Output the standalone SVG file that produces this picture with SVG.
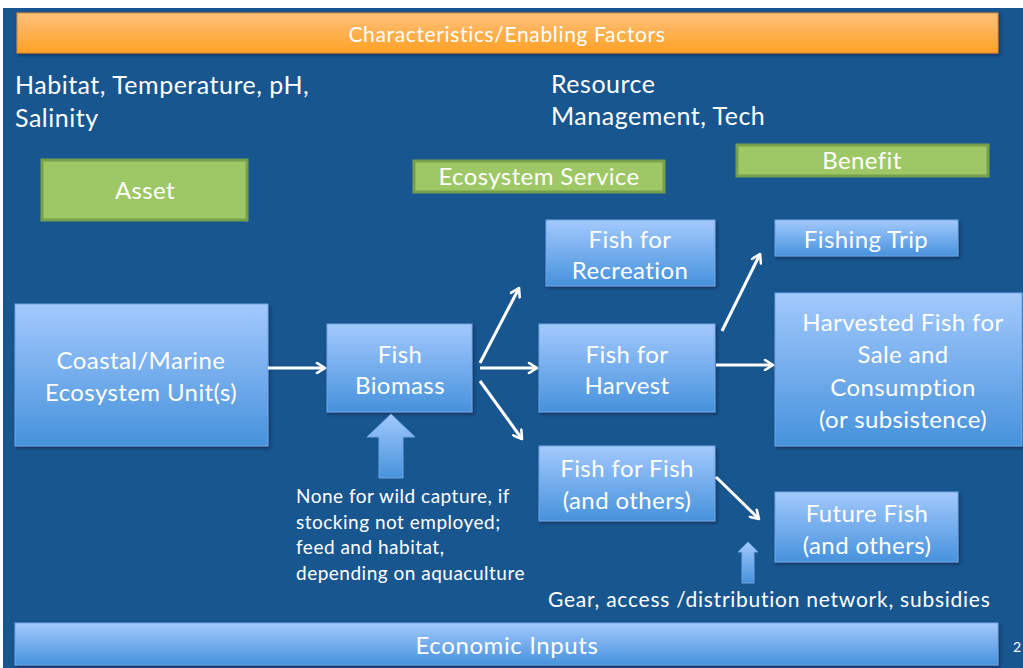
<svg xmlns="http://www.w3.org/2000/svg" width="1023" height="668" viewBox="0 0 1023 668">
  <defs>
    <linearGradient id="blueFill" x1="0" y1="0" x2="0" y2="1">
      <stop offset="0" stop-color="#a3c9fd"/>
      <stop offset="1" stop-color="#4692dc"/>
    </linearGradient>
    <linearGradient id="orangeFill" x1="0" y1="0" x2="0" y2="1">
      <stop offset="0" stop-color="#ffc07c"/>
      <stop offset="1" stop-color="#ffa124"/>
    </linearGradient>
    <filter id="shadow" x="-10%" y="-10%" width="120%" height="130%">
      <feDropShadow dx="1.5" dy="2" stdDeviation="1.5" flood-color="#0a2440" flood-opacity="0.6"/>
    </filter>
    <marker id="head" viewBox="0 0 12 12" refX="10" refY="6" markerWidth="12" markerHeight="12" markerUnits="userSpaceOnUse" orient="auto">
      <polyline points="2,1 10,6 2,11" fill="none" stroke="#ffffff" stroke-width="2.6" stroke-linecap="round" stroke-linejoin="round"/>
    </marker>
  </defs>
  <style>
    text { font-family: Lato, "Open Sans", "Liberation Sans", sans-serif; fill: #ffffff; }
    .box { fill: url(#blueFill); stroke: #6ea6e6; stroke-width: 1; filter: url(#shadow); }
    .green { fill: #9ec865; stroke: #76a04a; stroke-width: 3; }
    .lbl { font-size: 24px; letter-spacing: 0.4px; text-anchor: middle; dominant-baseline: central; transform: translateY(-1.5px); }
    .side { font-size: 25px; letter-spacing: 0.5px; }
    .note { font-size: 19px; letter-spacing: 0.5px; }
    .conn { stroke: #ffffff; stroke-width: 3; fill: none; marker-end: url(#head); }
  </style>

  <!-- slide background -->
  <rect x="0" y="0" width="1023" height="668" fill="#ffffff"/>
  <rect x="3" y="8" width="1020" height="660" fill="#185690"/>

  <!-- header bar -->
  <g id="enabling-factors">
    <rect x="17" y="13" width="981" height="40" fill="url(#orangeFill)" stroke="#e08b2c" stroke-width="1" filter="url(#shadow)"/>
    <text x="507" y="35" class="lbl" style="font-size:21px;letter-spacing:0.65px">Characteristics/Enabling Factors</text>
  </g>

  <!-- side captions -->
  <g id="factors-habitat">
    <text x="15" y="94" class="side">Habitat, Temperature, pH,</text>
    <text x="15" y="127" class="side">Salinity</text>
  </g>
  <g id="factors-management">
    <text x="551" y="93" class="side">Resource</text>
    <text x="551" y="125" class="side">Management, Tech</text>
  </g>

  <!-- column headings -->
  <g id="asset-label">
    <rect x="42" y="160" width="205" height="60" class="green"/>
    <text x="145" y="191" class="lbl">Asset</text>
  </g>
  <g id="service-label">
    <rect x="414" y="161" width="250" height="31" class="green"/>
    <text x="539" y="177" class="lbl">Ecosystem Service</text>
  </g>
  <g id="benefit-label">
    <rect x="737" y="145" width="251" height="31" class="green"/>
    <text x="862" y="161" class="lbl">Benefit</text>
  </g>

  <!-- flow nodes -->
  <g id="ecosystem-unit">
    <rect x="15" y="304" width="253" height="142" class="box"/>
    <text x="141" y="361" class="lbl">Coastal/Marine</text>
    <text x="141" y="393" class="lbl">Ecosystem Unit(s)</text>
  </g>
  <g id="fish-biomass">
    <rect x="327" y="324" width="145" height="88" class="box"/>
    <text x="400" y="355" class="lbl">Fish</text>
    <text x="400" y="386" class="lbl">Biomass</text>
  </g>
  <g id="fish-recreation">
    <rect x="546" y="220" width="169" height="66" class="box"/>
    <text x="630" y="240" class="lbl">Fish for</text>
    <text x="630" y="271" class="lbl">Recreation</text>
  </g>
  <g id="fish-harvest">
    <rect x="539" y="324" width="176" height="88" class="box"/>
    <text x="627" y="355" class="lbl">Fish for</text>
    <text x="627" y="386" class="lbl">Harvest</text>
  </g>
  <g id="fish-for-fish">
    <rect x="539" y="446" width="176" height="75" class="box"/>
    <text x="627" y="469" class="lbl">Fish for Fish</text>
    <text x="627" y="501" class="lbl">(and others)</text>
  </g>
  <g id="fishing-trip">
    <rect x="775" y="220" width="183" height="36" class="box"/>
    <text x="866" y="240" class="lbl">Fishing Trip</text>
  </g>
  <g id="harvested-fish">
    <rect x="775" y="293" width="247" height="153" class="box"/>
    <text x="903" y="323" class="lbl">Harvested Fish for</text>
    <text x="903" y="355" class="lbl">Sale and</text>
    <text x="903" y="388" class="lbl">Consumption</text>
    <text x="903" y="420" class="lbl">(or subsistence)</text>
  </g>
  <g id="future-fish">
    <rect x="775" y="492" width="183" height="70" class="box"/>
    <text x="867" y="514" class="lbl">Future Fish</text>
    <text x="867" y="546" class="lbl">(and others)</text>
  </g>

  <!-- input block arrows -->
  <g id="biomass-inputs">
    <polygon points="391,414 415,437 403,437 403,478 379,478 379,437 367,437" fill="url(#blueFill)" stroke="#6ea6e6" stroke-width="1"/>
    <text x="296" y="503" class="note">None for wild capture, if</text>
    <text x="296" y="529" class="note">stocking not employed;</text>
    <text x="296" y="554" class="note">feed and habitat,</text>
    <text x="296" y="580" class="note">depending on aquaculture</text>
  </g>
  <g id="economic-access">
    <polygon points="748,542 758,552 754,552 754,583 742,583 742,552 738,552" fill="url(#blueFill)" stroke="#6ea6e6" stroke-width="1"/>
    <text x="548" y="607" style="font-size:21px;letter-spacing:0.75px">Gear, access /distribution network, subsidies</text>
  </g>

  <!-- bottom bar -->
  <g id="economic-inputs">
    <rect x="15" y="623" width="983" height="42" class="box"/>
    <text x="507" y="646" class="lbl" style="letter-spacing:0.6px">Economic Inputs</text>
  </g>
  <text x="1013" y="652" style="font-size:14px">2</text>

  <!-- connectors -->
  <g id="connectors">
    <line x1="268" y1="368" x2="325" y2="368" class="conn"/>
    <line x1="480" y1="363" x2="519" y2="288" class="conn"/>
    <line x1="480" y1="368" x2="537" y2="368" class="conn"/>
    <line x1="480" y1="381" x2="522" y2="439" class="conn"/>
    <line x1="722" y1="331" x2="760" y2="254" class="conn"/>
    <line x1="716" y1="365" x2="773" y2="365" class="conn"/>
    <line x1="716" y1="477" x2="759" y2="519" class="conn"/>
  </g>
</svg>
